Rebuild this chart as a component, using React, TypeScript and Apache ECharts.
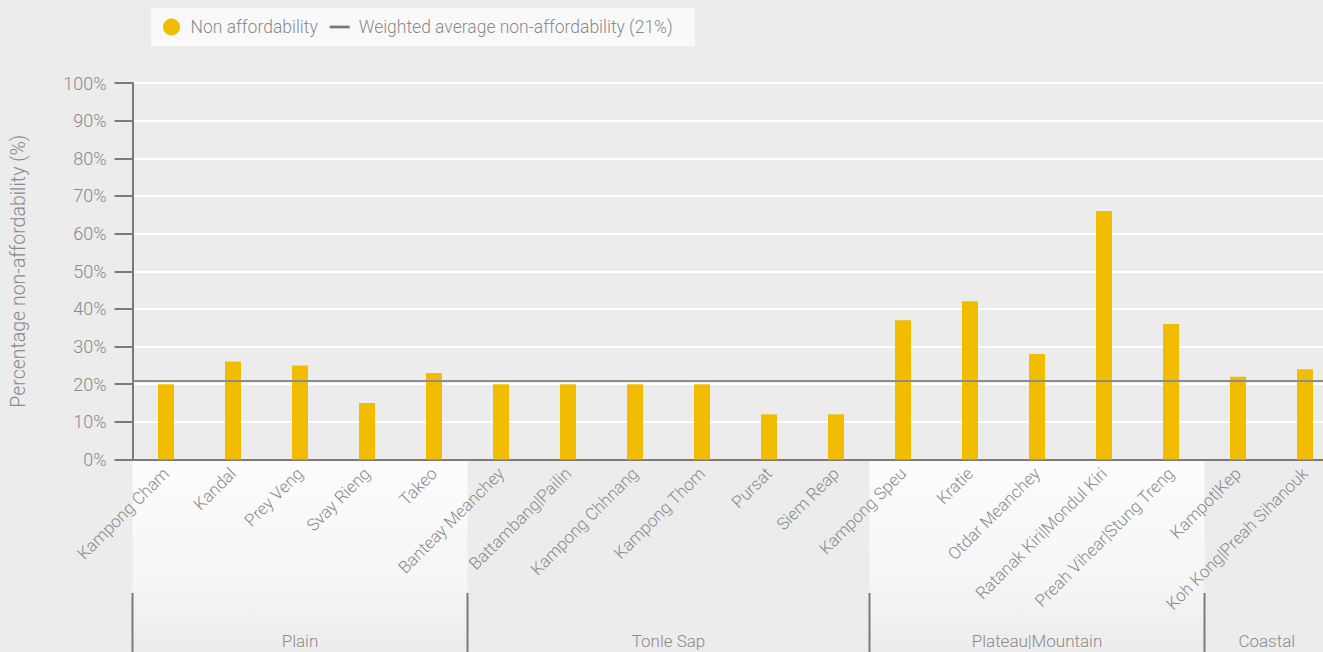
import React, { useEffect, useRef } from "react";
import * as echarts from "echarts";

const categories = [
  "Kampong Cham",
  "Kandal",
  "Prey Veng",
  "Svay Rieng",
  "Takeo",
  "Banteay Meanchey",
  "Battambang|Pailin",
  "Kampong Chhnang",
  "Kampong Thom",
  "Pursat",
  "Siem Reap",
  "Kampong Speu",
  "Kratie",
  "Otdar Meanchey",
  "Ratanak Kiri|Mondul Kiri",
  "Preah Vihear|Stung Treng",
  "Kampot|Kep",
  "Koh Kong|Preah Sihanouk",
];
const nonAffordability = [20, 26, 25, 15, 23, 20, 20, 20, 20, 12, 12, 37, 42, 28, 66, 36, 22, 24];
const weightedAverage = 21;
const groupNames = ["Plain", "Tonle Sap", "Plateau|Mountain", "Coastal"];
const groupSizes = [5, 6, 5, 2];
const groupShaded = [true, false, true, false];
const seriesNames = ["Non affordability", "Weighted average non-affordability (21%)"];

const FONT = "Roboto, sans-serif";
const WEIGHT = 300;
const TEXT = "#8a8a8a";
const AXIS = "#7a7a7a";
const W = 1340;
const H = 652;
const VISIBLE_W = 1323;

export default function App() {
  const ref = useRef<HTMLDivElement>(null);
  useEffect(() => {
    if (!ref.current) return;
    const chart = echarts.init(ref.current, null, { renderer: "svg" });
    chart.setOption({
      animation: false,
      backgroundColor: "#ececec",
      textStyle: { fontFamily: FONT, fontWeight: WEIGHT },
      legend: {
        left: 151,
        top: 8,
        padding: [10, 22, 10, 12],
        backgroundColor: "#f9f9f9",
        itemGap: 12,
        itemWidth: 20,
        itemHeight: 17,
        textStyle: {
          color: TEXT,
          fontSize: 17.5,
          fontFamily: FONT,
          fontWeight: WEIGHT,
          padding: [0, 0, 0, 4],
        },
        data: [
          { name: seriesNames[0], icon: "circle" },
          { name: seriesNames[1], icon: "path://M0 0H22V3H0Z" },
        ],
      },
      grid: { left: 132.5, right: 1.5, top: 83, bottom: 192.5, containLabel: false },
      xAxis: {
        type: "category",
        data: categories,
        axisLine: { lineStyle: { color: AXIS, width: 2 } },
        axisTick: { show: false },
        axisLabel: {
          interval: 0,
          rotate: 45,
          margin: 11,
          color: TEXT,
          fontSize: 17,
          fontFamily: FONT,
          fontWeight: WEIGHT,
        },
      },
      yAxis: {
        type: "value",
        min: 0,
        max: 100,
        interval: 10,
        name: "Percentage non-affordability (%)",
        nameLocation: "middle",
        nameGap: 104,
        nameTextStyle: { color: TEXT, fontSize: 19.5, fontFamily: FONT, fontWeight: WEIGHT },
        axisLine: { show: true, lineStyle: { color: AXIS, width: 2 } },
        axisTick: { show: true, length: 18, lineStyle: { color: AXIS, width: 2 } },
        axisLabel: {
          formatter: "{value}%",
          color: TEXT,
          fontSize: 18,
          margin: 26,
          fontFamily: FONT,
          fontWeight: WEIGHT,
        },
        splitLine: { lineStyle: { color: "#ffffff", width: 2 } },
      },
      series: [
        {
          name: seriesNames[0],
          type: "bar",
          data: nonAffordability,
          barWidth: 16,
          itemStyle: { color: "#f2bc00" },
        },
        {
          name: seriesNames[1],
          type: "line",
          data: [],
          itemStyle: { color: "#777777" },
          lineStyle: { color: "#8c8c8c", width: 2 },
          markLine: {
            silent: true,
            symbol: ["none", "none"],
            label: { show: false },
            lineStyle: { color: "#8c8c8c", width: 2, type: "solid" },
            data: [{ yAxis: weightedAverage }],
          },
        },
      ],
    });

    const c0 = chart.convertToPixel({ xAxisIndex: 0 }, 0) as number;
    const c1 = chart.convertToPixel({ xAxisIndex: 0 }, 1) as number;
    const bw = c1 - c0;
    const axisY = chart.convertToPixel({ yAxisIndex: 0 }, 0) as number;
    const elements: any[] = [];
    let start = 0;
    groupNames.forEach((g, gi) => {
      const n = groupSizes[gi];
      const xL = c0 - bw / 2 + start * bw;
      const wdt = n * bw;
      const xR = Math.min(xL + wdt, VISIBLE_W + 6);
      if (groupShaded[gi]) {
        elements.push({
          type: "rect",
          z: -10,
          shape: { x: xL, y: axisY + 1, width: wdt, height: H - axisY },
          style: {
            fill: new echarts.graphic.LinearGradient(0, 0, 0, 1, [
              { offset: 0, color: "#fcfcfc" },
              { offset: 0.6, color: "#f6f6f6" },
              { offset: 1, color: "#ececec" },
            ]),
          },
        });
      }
      elements.push({
        type: "line",
        z: 5,
        shape: { x1: xL, y1: H - 59, x2: xL, y2: H },
        style: { stroke: AXIS, lineWidth: 2 },
      });
      elements.push({
        type: "text",
        z: 5,
        x: (xL + xR) / 2,
        y: H - 11,
        style: {
          text: g,
          fill: TEXT,
          fontSize: 17,
          fontFamily: FONT,
          fontWeight: WEIGHT,
          align: "center",
          verticalAlign: "middle",
        },
      });
      start += n;
    });
    chart.setOption({ graphic: { elements } });

    return () => chart.dispose();
  }, []);
  return (
    <div
      ref={ref}
      style={{ position: "fixed", left: 0, top: 0, width: W, height: H }}
    />
  );
}
